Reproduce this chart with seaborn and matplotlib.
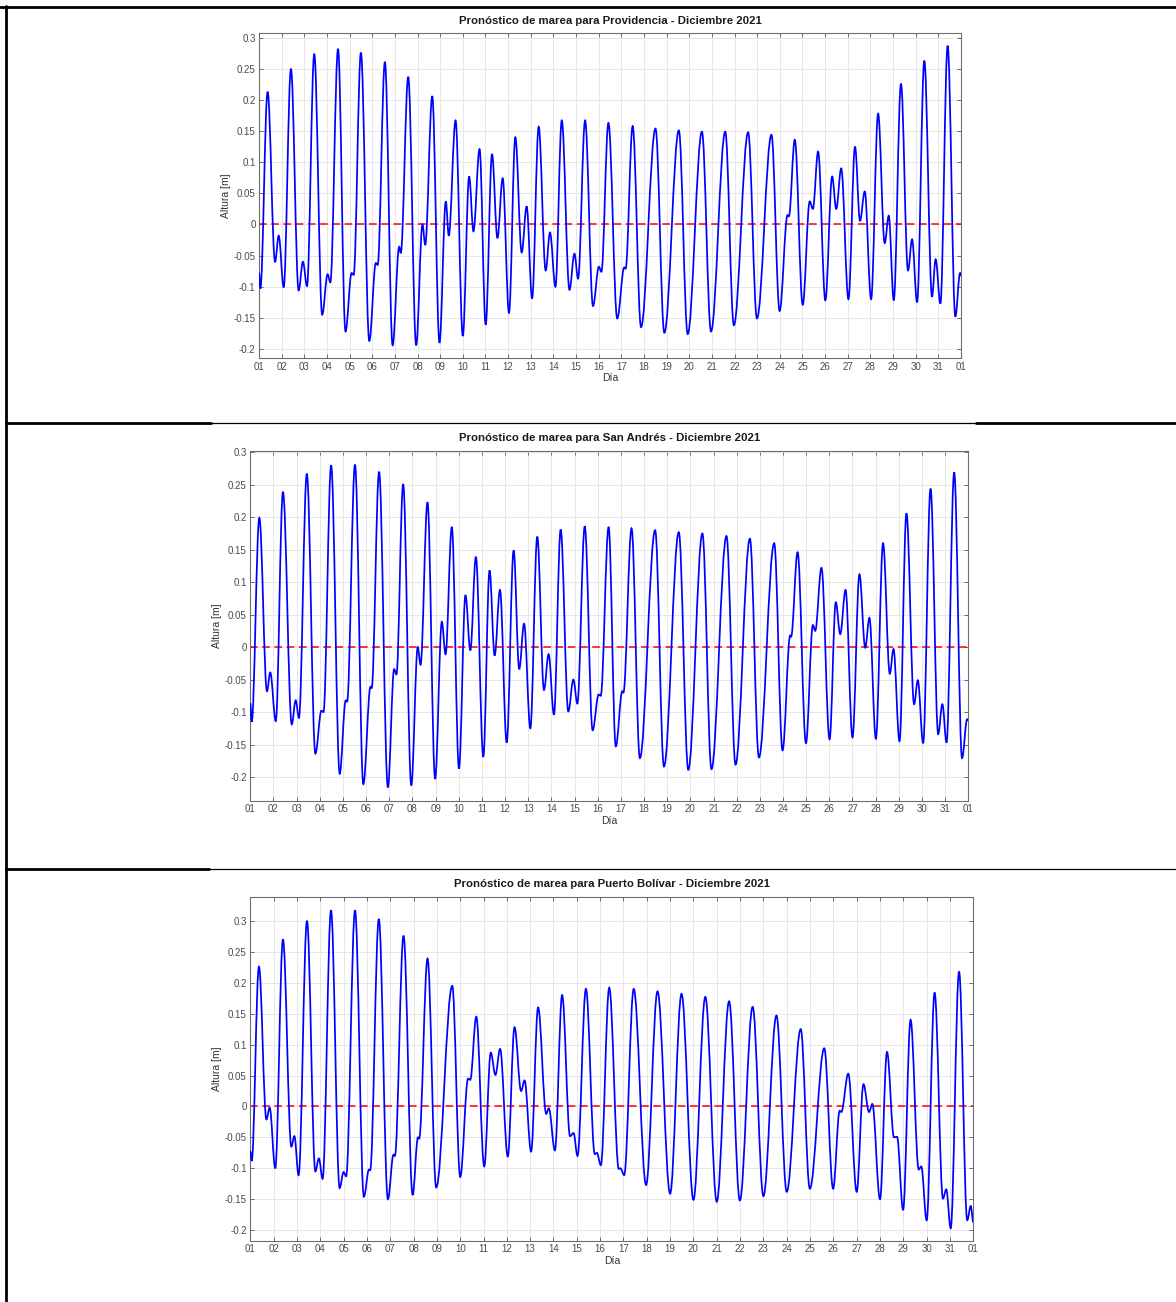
import numpy as np
import pandas as pd
import seaborn as sns
import matplotlib
matplotlib.use("Agg")
import matplotlib.pyplot as plt
from matplotlib.path import Path
from matplotlib.patches import PathPatch
from matplotlib.lines import Line2D

# ---------------------------------------------------------------
#  Datos: pleamares / bajamares (dias desde el 01-dic)
# ---------------------------------------------------------------
prov_dia = [0.00, 0.06, 0.38, 0.71, 0.87, 1.09, 1.41, 1.75, 1.94, 2.12,
            2.44, 2.79, 3.03, 3.15, 3.49, 3.82, 4.09, 4.18, 4.50, 4.87,
            5.16, 5.24, 5.56, 5.90, 6.19, 6.26, 6.59, 6.94, 7.22, 7.34,
            7.65, 7.97, 8.25, 8.38, 8.68, 9.00, 9.28, 9.47, 9.74, 10.01,
            10.29, 10.53, 10.76, 11.04, 11.32, 11.60, 11.82, 12.06, 12.35, 12.66,
            12.85, 13.09, 13.37, 13.71, 13.93, 14.09, 14.40, 14.75, 15.01, 15.12,
            15.43, 15.82, 16.13, 16.19, 16.50, 16.87, 17.51, 17.90, 18.54, 18.93,
            19.56, 19.96, 20.59, 20.97, 21.60, 21.99, 22.63, 22.99, 23.34, 23.40,
            23.66, 24.01, 24.32, 24.46, 24.69, 25.01, 25.31, 25.49, 25.71, 26.03,
            26.32, 26.54, 26.75, 27.03, 27.34, 27.63, 27.81, 28.03, 28.35, 28.66,
            28.84, 29.06, 29.38, 29.72, 29.88, 30.09, 30.41, 30.75, 30.96, 31.00]
prov_altura = [-0.078, -0.103, 0.213, -0.060, -0.018, -0.101, 0.250, -0.106, -0.060, -0.099,
               0.274, -0.145, -0.080, -0.093, 0.282, -0.172, -0.078, -0.081, 0.276, -0.187,
               -0.062, -0.065, 0.261, -0.194, -0.036, -0.046, 0.237, -0.194, 0.000, -0.033,
               0.206, -0.190, 0.037, -0.018, 0.167, -0.179, 0.077, -0.011, 0.121, -0.161,
               0.113, -0.022, 0.074, -0.142, 0.140, -0.045, 0.029, -0.119, 0.157, -0.074,
               -0.013, -0.100, 0.167, -0.105, -0.047, -0.087, 0.167, -0.131, -0.068, -0.076,
               0.163, -0.151, -0.069, -0.071, 0.158, -0.165, 0.154, -0.174, 0.151, -0.176,
               0.149, -0.172, 0.149, -0.162, 0.148, -0.151, 0.144, -0.139, 0.015, 0.013,
               0.136, -0.129, 0.037, 0.025, 0.117, -0.122, 0.077, 0.025, 0.090, -0.120,
               0.125, 0.006, 0.053, -0.120, 0.178, -0.030, 0.014, -0.122, 0.226, -0.074,
               -0.024, -0.125, 0.263, -0.116, -0.056, -0.127, 0.287, -0.148, -0.078, -0.082]

sa_dia = [0.00, 0.06, 0.39, 0.72, 0.86, 1.10, 1.41, 1.79, 1.96, 2.10,
          2.44, 2.81, 3.07, 3.16, 3.49, 3.86, 4.12, 4.18, 4.52, 4.88,
          5.19, 5.24, 5.56, 5.94, 6.21, 6.31, 6.60, 6.95, 7.23, 7.35,
          7.65, 7.98, 8.27, 8.43, 8.70, 9.01, 9.29, 9.50, 9.74, 10.06,
          10.33, 10.55, 10.78, 11.07, 11.37, 11.61, 11.82, 12.09, 12.39, 12.68,
          12.88, 13.11, 13.40, 13.73, 13.95, 14.12, 14.44, 14.78, 15.04, 15.13,
          15.47, 15.78, 16.06, 16.11, 16.46, 16.82, 17.48, 17.86, 18.50, 18.91,
          19.52, 19.91, 20.56, 20.95, 21.57, 21.96, 22.62, 22.98, 23.31, 23.35,
          23.63, 23.99, 24.29, 24.39, 24.66, 25.01, 25.28, 25.47, 25.70, 26.00,
          26.30, 26.55, 26.73, 27.01, 27.32, 27.61, 27.77, 28.03, 28.33, 28.66,
          28.82, 29.05, 29.37, 29.70, 29.88, 30.06, 30.39, 30.73, 30.95, 31.00]
sa_altura = [-0.087, -0.115, 0.199, -0.068, -0.039, -0.114, 0.239, -0.119, -0.082, -0.109,
             0.267, -0.164, -0.098, -0.100, 0.280, -0.195, -0.082, -0.084, 0.281, -0.211,
             -0.061, -0.063, 0.270, -0.216, -0.034, -0.042, 0.251, -0.213, 0.000, -0.027,
             0.223, -0.203, 0.039, -0.011, 0.185, -0.187, 0.080, -0.005, 0.139, -0.169,
             0.118, -0.013, 0.088, -0.147, 0.149, -0.034, 0.036, -0.125, 0.170, -0.066,
             -0.011, -0.104, 0.181, -0.099, -0.050, -0.087, 0.186, -0.128, -0.073, -0.075,
             0.185, -0.153, -0.068, -0.070, 0.183, -0.171, 0.180, -0.184, 0.177, -0.189,
             0.175, -0.188, 0.171, -0.181, 0.167, -0.170, 0.160, -0.159, 0.018, 0.016,
             0.146, -0.148, 0.034, 0.025, 0.122, -0.142, 0.069, 0.020, 0.088, -0.139,
             0.112, -0.001, 0.045, -0.141, 0.160, -0.041, -0.003, -0.145, 0.206, -0.088,
             -0.051, -0.148, 0.244, -0.134, -0.088, -0.147, 0.269, -0.171, -0.111, -0.113]

pb_dia = [0.00, 0.06, 0.37, 0.69, 0.83, 1.07, 1.40, 1.76, 1.89, 2.07,
          2.43, 2.79, 2.94, 3.10, 3.46, 3.83, 4.00, 4.11, 4.49, 4.87,
          5.09, 5.14, 5.51, 5.90, 6.14, 6.20, 6.57, 6.96, 7.19, 7.24,
          7.60, 7.97, 8.66, 9.00, 9.34, 9.43, 9.69, 10.03, 10.31, 10.51,
          10.71, 11.04, 11.33, 11.61, 11.76, 12.04, 12.34, 12.69, 12.80, 13.06,
          13.37, 13.71, 13.86, 14.03, 14.39, 14.77, 14.86, 15.03, 15.39, 15.80,
          15.87, 16.03, 16.44, 16.97, 17.46, 18.00, 18.49, 19.00, 19.51, 20.00,
          20.53, 20.99, 21.54, 22.00, 22.56, 23.00, 23.60, 23.99, 24.61, 24.99,
          25.27, 25.34, 25.64, 26.00, 26.29, 26.53, 26.67, 27.00, 27.30, 27.60,
          27.73, 27.99, 28.31, 28.66, 28.77, 29.00, 29.34, 29.70, 29.84, 30.03,
          30.39, 30.74, 30.89, 31.00]
pb_altura = [-0.073, -0.088, 0.226, -0.021, -0.002, -0.100, 0.270, -0.065, -0.048, -0.111,
             0.300, -0.105, -0.084, -0.117, 0.317, -0.132, -0.106, -0.113, 0.317, -0.146,
             -0.102, -0.103, 0.303, -0.150, -0.078, -0.080, 0.276, -0.143, -0.050, -0.052,
             0.239, -0.131, 0.195, -0.114, 0.045, 0.043, 0.145, -0.097, 0.087, 0.051,
             0.093, -0.081, 0.128, 0.025, 0.042, -0.073, 0.160, -0.012, -0.003, -0.071,
             0.180, -0.048, -0.043, -0.080, 0.190, -0.077, -0.075, -0.095, 0.192, -0.101,
             -0.100, -0.111, 0.190, -0.127, 0.186, -0.141, 0.182, -0.151, 0.177, -0.154,
             0.170, -0.152, 0.161, -0.145, 0.147, -0.138, 0.125, -0.133, 0.094, -0.133,
             -0.007, -0.009, 0.053, -0.138, 0.036, -0.009, 0.004, -0.150, 0.088, -0.050,
             -0.049, -0.167, 0.140, -0.102, -0.097, -0.184, 0.184, -0.149, -0.134, -0.197,
             0.218, -0.184, -0.161, -0.187]

estaciones = ["Providencia", "San Andrés", "Puerto Bolívar"]
dias_ticks = list(range(0, 32))
dias_etiquetas = ["%02d" % d for d in range(1, 32)] + ["01"]
altura_ticks = [-0.2, -0.15, -0.1, -0.05, 0, 0.05, 0.1, 0.15, 0.2, 0.25, 0.3]

# ---------------------------------------------------------------
#  Estilo
# ---------------------------------------------------------------
sns.set_theme(style="whitegrid")
plt.rcParams['font.family'] = ['Liberation Sans', 'DejaVu Sans']

K = 0.3634  # forma coseno de la curva de marea entre extremos


def curva_marea(t, v):
    verts = [(t[0], v[0])]
    codes = [Path.MOVETO]
    for i in range(len(t) - 1):
        dt = t[i + 1] - t[i]
        verts += [(t[i] + K * dt, v[i]), (t[i + 1] - K * dt, v[i + 1]), (t[i + 1], v[i + 1])]
        codes += [Path.CURVE4] * 3
    return Path(verts, codes)


fig = plt.figure(figsize=(11.76, 13.02), dpi=100)

paneles = [
    (prov_dia, prov_altura, [259 / 1176, 1 - 358.3 / 1302, 702 / 1176, 325 / 1302], (-0.215, 0.307)),
    (sa_dia, sa_altura, [250.3 / 1176, 1 - 801 / 1302, 718 / 1176, 350 / 1302], (-0.237, 0.302)),
    (pb_dia, pb_altura, [250.3 / 1176, 1 - 1240.7 / 1302, 723 / 1176, 344 / 1302], (-0.217, 0.339)),
]

for (dia, altura, pos, ylim), nombre in zip(paneles, estaciones):
    ax = fig.add_axes(pos)
    ax.set_facecolor("white")
    df = pd.DataFrame({"dia": dia, "altura": altura})

    # linea de referencia 0
    sns.lineplot(x=[df.dia.iloc[0], df.dia.iloc[-1]], y=[0, 0], ax=ax, color="red",
                 linestyle="--", dashes=False, lw=1.1, zorder=2)
    ax.lines[-1].set_dashes((5, 3))
    # curva de marea
    ax.add_patch(PathPatch(curva_marea(df.dia.values, df.altura.values), fill=False,
                           edgecolor="blue", lw=1.25, zorder=3, capstyle="round"))

    ax.set_xlim(0, 31)
    ax.set_ylim(*ylim)
    ax.set_xticks(dias_ticks)
    ax.set_xticklabels(dias_etiquetas)
    ax.set_yticks(altura_ticks)
    ax.set_yticklabels(["%g" % a for a in altura_ticks])
    ax.grid(True, color="#e3e3e3", lw=0.6)
    ax.tick_params(direction="in", length=3, width=0.6, color="#555555",
                   top=True, right=True, bottom=True, left=True,
                   labelsize=7, labelcolor="#4a4a4a", pad=2.5)
    for s in ax.spines.values():
        s.set_color("#6e6e6e")
        s.set_linewidth(0.8)
    ax.set_title("Pronóstico de marea para %s - Diciembre 2021" % nombre,
                 fontsize=8.2, fontweight="bold", color="#1a1a1a", pad=7)
    ax.set_xlabel("Día", fontsize=7.5, color="#333333", labelpad=1)
    ax.set_ylabel("Altura [m]", fontsize=7.5, color="#333333", labelpad=2)

# marco de la tabla
H, W = 1302, 1176
def linea(x0, x1, y0, y1, lw):
    fig.add_artist(Line2D([x0 / W, x1 / W], [1 - y0 / H, 1 - y1 / H], color="black",
                          lw=lw, transform=fig.transFigure))

linea(6, 6, 6, H, 2.0)
linea(0, W, 6.5, 6.5, 2.0)
linea(6, 211, 423, 423, 2.0)
linea(211, 976, 423, 423, 0.9)
linea(976, W, 423, 423, 2.0)
linea(6, 209, 868.5, 868.5, 2.0)
linea(209, W, 868.5, 868.5, 0.9)

fig.savefig("out.png", dpi=100, facecolor="white")
